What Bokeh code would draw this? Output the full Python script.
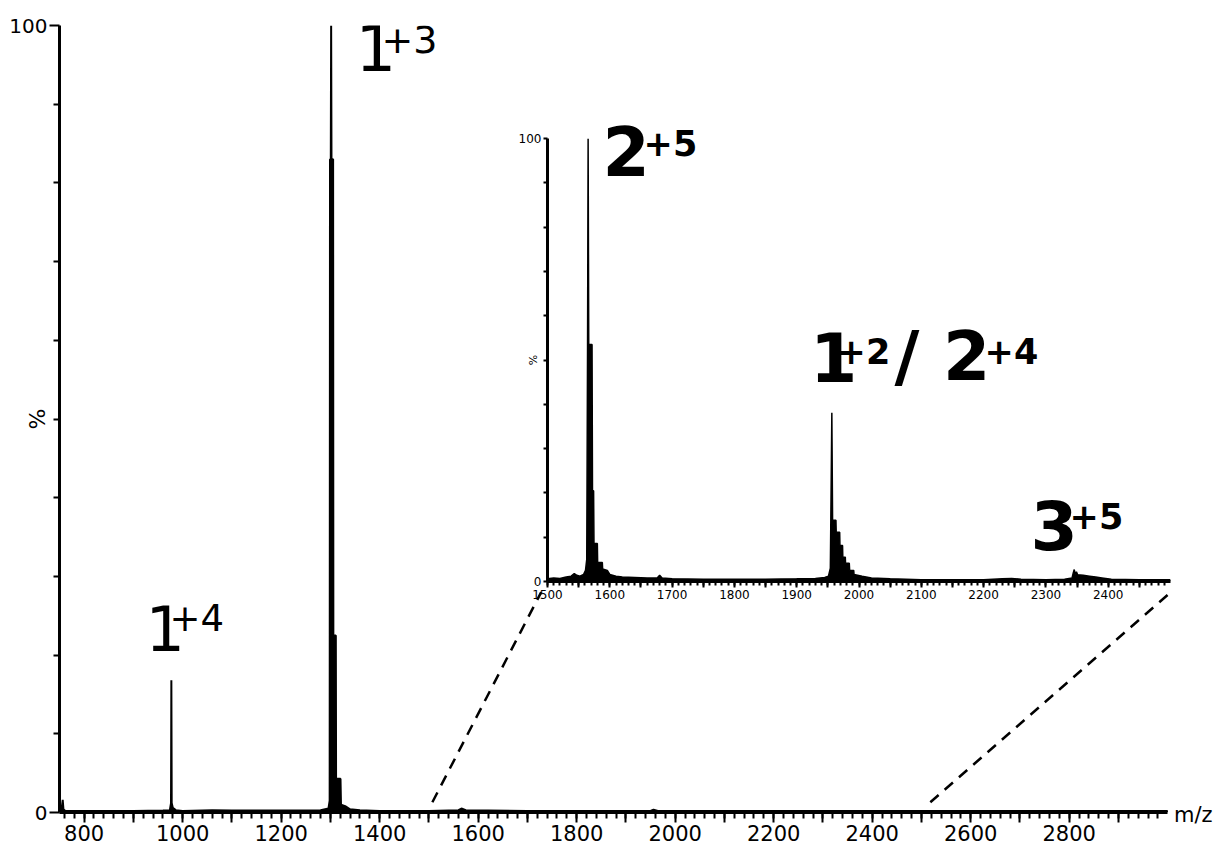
import math
from bokeh.plotting import figure
from bokeh.models import ColumnDataSource, Range1d, FixedTicker, Label, GridBox, Div
from bokeh.embed import file_html
from bokeh.resources import INLINE

# ---------------- data: full spectrum (m/z, relative intensity %) ----------------
main_mz = [750, 754, 756.5, 758, 762, 800, 900, 960, 974, 976.4, 977.1, 977.8, 980, 986,
           1000, 1060, 1100, 1200, 1280, 1296, 1298.5, 1299.2, 1300.8, 1301.5, 1302.2,
           1305.5, 1306, 1311, 1311.5, 1320.5, 1321.5, 1330, 1340, 1360, 1400, 1500,
           1560, 1566, 1575, 1700, 1950, 1956, 1965, 2400, 3000]
main_int = [0.2, 0.3, 1.6, 0.4, 0.2, 0.2, 0.2, 0.25, 0.3, 1.2, 16.8, 1.2, 0.6, 0.3,
            0.2, 0.3, 0.25, 0.25, 0.3, 0.5, 1.5, 83, 83, 100, 83,
            83, 22.5, 22.5, 4.3, 4.3, 1.0, 0.8, 0.4, 0.3, 0.2, 0.2,
            0.3, 0.5, 0.3, 0.2, 0.2, 0.35, 0.2, 0.2, 0.2]

# ---------------- data: zoomed region 1500-2500 ----------------
inset_mz = [1500, 1510, 1520, 1530, 1538, 1543, 1547, 1552, 1558, 1561, 1563, 1564.3,
            1565.2, 1566.2, 1571.5, 1572.2, 1574, 1574.6, 1580, 1580.5, 1588, 1588.5,
            1596, 1600, 1610, 1620, 1640, 1660, 1676, 1680, 1684, 1700, 1750, 1800,
            1850, 1900, 1930, 1945, 1951, 1954, 1955.2, 1956.4, 1957.6, 1963, 1963.4,
            1969, 1969.4, 1973.6, 1974, 1978, 1978.4, 1984.4, 1985, 1991.5, 1992, 2005,
            2020, 2050, 2100, 2150, 2200, 2230, 2245, 2260, 2300, 2330, 2342, 2344,
            2345.5, 2347, 2349, 2351, 2360, 2370, 2380, 2390, 2405, 2450, 2500]
inset_int = [0.6, 0.8, 0.7, 1.0, 1.2, 1.8, 1.4, 1.2, 1.6, 2.5, 5, 53.5,
             100, 53.5, 53.5, 20.5, 20.5, 8.6, 8.6, 4.3, 4.3, 2.8,
             2.5, 1.6, 1.2, 1.0, 0.9, 0.8, 0.8, 1.4, 0.8, 0.6, 0.5, 0.5,
             0.5, 0.6, 0.7, 0.9, 1.2, 3, 20, 38.1, 13.8, 13.8, 11.1,
             11.1, 8.1, 8.1, 5.5, 5.5, 4.1, 4.1, 2.5, 2.5, 1.6, 1.2,
             0.8, 0.6, 0.4, 0.4, 0.4, 0.6, 0.7, 0.5, 0.4, 0.5, 0.8, 2.0,
             2.7, 1.6, 2.2, 1.5, 1.4, 1.2, 1.0, 0.8, 0.5, 0.4, 0.4]

# ---------------- ticks ----------------
main_x_major = list(range(800, 3000, 100))
main_x_minor = list(range(760, 3000, 20))
main_x_labels = ["800", "1000", "1200", "1400", "1600", "1800", "2000", "2200",
                 "2400", "2600", "2800"]
main_y_major = [0, 100]
main_y_minor = [10, 20, 30, 40, 50, 60, 70, 80, 90]

inset_x_major = list(range(1500, 2500, 50))
inset_x_minor = list(range(1500, 2500, 10))
inset_x_labels = ["1500", "1600", "1700", "1800", "1900", "2000", "2100", "2200",
                  "2300", "2400"]
inset_y_major = [0, 100]
inset_y_minor = [10, 20, 30, 40, 50, 60, 70, 80, 90]

# zoom connector lines (main-plot coordinates)
zoom_left_x = [1507, 1728]
zoom_left_y = [1.3, 28.0]
zoom_right_x = [2518, 3010]
zoom_right_y = [1.3, 28.2]

# charge-state annotations (placed in main-plot coordinates; bold ones label the inset peaks)
ann_text = ["1", "+3", "1", "+4",
            "2", "+5", "1", "+2", "/ 2", "+4", "3", "+5"]
ann_x = [1351, 1403.8, 924.6, 973.4,
         1852.5, 1935.8, 2273.9, 2327.7, 2445.4, 2628.2, 2721.6, 2800.8]
ann_y = [97.25, 98.2, 23.45, 24.8,
         84.0, 85.1, 57.94, 58.63, 57.94, 58.63, 36.5, 37.62]
ann_size = ["64px", "38px", "62px", "37px",
            "68px", "35px", "68px", "35px", "68px", "35px", "68px", "35px"]
ann_bold = [False, False, False, False,
            True, True, True, True, True, True, True, True]

FONT = "DejaVu Sans"
BORDERS = dict(min_border_left=59, min_border_right=4, min_border_top=25, min_border_bottom=36)


def style_axis(ax, major_out, minor_out, size, width=3):
    ax.axis_line_width = width
    ax.axis_line_color = "black"
    ax.major_tick_line_width = 2
    ax.minor_tick_line_width = 2
    ax.major_tick_out = major_out
    ax.major_tick_in = 0
    ax.minor_tick_out = minor_out
    ax.minor_tick_in = 0
    ax.major_label_text_font = FONT
    ax.major_label_text_font_size = size
    ax.major_label_text_color = "black"
    ax.major_label_standoff = 2
    ax.axis_label_text_font = FONT
    ax.axis_label_text_font_style = "normal"
    ax.axis_label_text_color = "black"


# ---------------- main figure ----------------
p = figure(width=1220, height=848, x_range=Range1d(750, 3099), y_range=Range1d(0, 100),
           output_backend="svg", toolbar_location=None, **BORDERS)
p.grid.visible = False
p.outline_line_color = None

src = ColumnDataSource(dict(mz=main_mz, inten=main_int))
p.varea(x="mz", y1=0, y2="inten", source=src, fill_color="black")
p.line(x="mz", y="inten", source=src, line_color="black", line_width=2)

p.line(zoom_left_x, zoom_left_y, line_color="black", line_width=2.5, line_dash="11 8")
p.line(zoom_right_x, zoom_right_y, line_color="black", line_width=2.5, line_dash="11 8")

xa = p.xaxis[0]
xa.ticker = FixedTicker(ticks=main_x_major, minor_ticks=main_x_minor)
xa.major_label_overrides = {t: (str(t) if str(t) in main_x_labels else "") for t in main_x_major}
xa.bounds = (750, 3000)
style_axis(xa, 10, 6, "21px")
ya = p.yaxis[0]
ya.ticker = FixedTicker(ticks=main_y_major, minor_ticks=main_y_minor)
style_axis(ya, 10, 6, "20px")
ya.axis_label = "%"
ya.axis_label_text_font_size = "22px"
ya.axis_label_standoff = -44

for t, x, y, s, b in zip(ann_text, ann_x, ann_y, ann_size, ann_bold):
    p.add_layout(Label(x=x, y=y, text=t, text_align="left", text_baseline="alphabetic",
                       text_font=FONT, text_font_size=s,
                       text_font_style="bold" if b else "normal", text_color="black"))

# ---------------- inset figure ----------------
q = figure(width=686, height=504, x_range=Range1d(1500, 2500), y_range=Range1d(0, 100),
           output_backend="svg", toolbar_location=None, **BORDERS)
q.grid.visible = False
q.outline_line_color = None
q.background_fill_alpha = 0
q.border_fill_alpha = 0

isrc = ColumnDataSource(dict(mz=inset_mz, inten=inset_int))
q.varea(x="mz", y1=0, y2="inten", source=isrc, fill_color="black")
q.line(x="mz", y="inten", source=isrc, line_color="black", line_width=1.5)

qx = q.xaxis[0]
qx.ticker = FixedTicker(ticks=inset_x_major, minor_ticks=inset_x_minor)
qx.major_label_overrides = {t: (str(t) if str(t) in inset_x_labels else "") for t in inset_x_major}
style_axis(qx, 6, 4, "12px")
qy = q.yaxis[0]
qy.ticker = FixedTicker(ticks=inset_y_major, minor_ticks=inset_y_minor)
style_axis(qy, 4, 4, "12px")
qy.axis_label = "%"
qy.axis_label_text_font_size = "11px"
qy.axis_label_standoff = -24

q.margin = (113, 0, 0, 488)

# x-axis unit label at the right end of the main axis
mz_label = Div(text='<span style="font-family:\'DejaVu Sans\';font-size:21px;line-height:24px;'
                    'color:black;white-space:nowrap">m/z</span>',
               width=46, height=26, margin=(803, 0, 0, 1174))

layout = GridBox(children=[(p, 0, 0), (q, 0, 0), (mz_label, 0, 0)])

open("out.html", "w").write(file_html(layout, INLINE))
